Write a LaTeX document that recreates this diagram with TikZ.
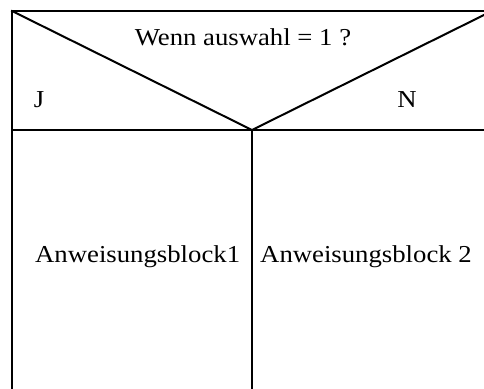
\documentclass[tikz,border=0pt]{standalone}
\usepackage{fontspec}
\setmainfont{Liberation Serif}[FakeStretch=1.1]
\begin{document}
\begin{tikzpicture}[x=1pt,y=-1pt,
  frame/.style={line width=2pt, line cap=rect},
  label/.style={inner sep=0pt, font=\fontsize{24.3}{27}\selectfont}]
\useasboundingbox (0,0) rectangle (484,388);
% corners of the decision block
\coordinate (tl) at (12,11);
\coordinate (tr) at (492,11);
\coordinate (ml) at (12,130);
\coordinate (mr) at (492,130);
\coordinate (apex) at (252,130);
\coordinate (bl) at (12,396);
\coordinate (bm) at (252,396);
\begin{scope}
\clip (0,0) rectangle (484,388);
\draw[frame] (bl) -- (tl) -- (tr);
\draw[frame] (ml) -- (mr);
\draw[frame] (tl) -- (apex) -- (tr);
\draw[frame] (apex) -- (bm);
\end{scope}
% texts
\node[label, anchor=base] (cond) at (243,45) {Wenn auswahl = 1 ?};
\node[label, anchor=base] (yes) at (39,107) {J};
\node[label, anchor=base] (no) at (407,107) {N};
\node[label, anchor=base west] (blk1) at (35,262) {Anweisungsblock1};
\node[label, anchor=base west] (blk2) at (260,262) {Anweisungsblock 2};
\end{tikzpicture}
\end{document}
